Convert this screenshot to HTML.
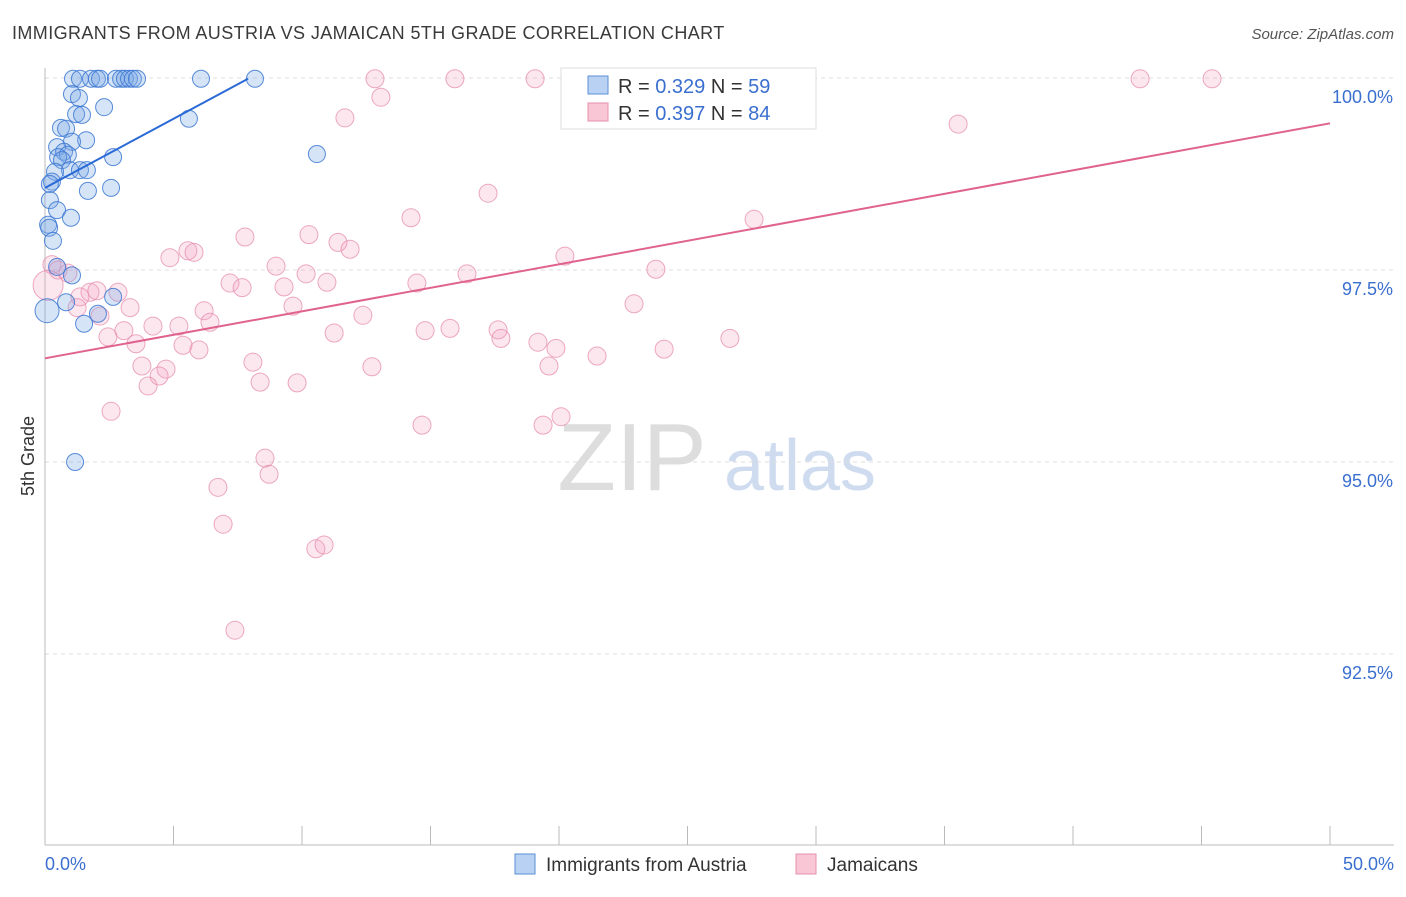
<!DOCTYPE html>
<html><head><meta charset="utf-8"><style>
body{margin:0;background:#fff;font-family:"Liberation Sans",sans-serif;}
svg text{font-family:"Liberation Sans",sans-serif;}
</style></head><body>
<svg id="chart" width="1406" height="892">
<text x="12" y="39" font-size="18" fill="#3a3a3a" letter-spacing="0.4">IMMIGRANTS FROM AUSTRIA VS JAMAICAN 5TH GRADE CORRELATION CHART</text>
<text x="1394" y="39" font-size="15" fill="#555" text-anchor="end" font-style="italic">Source: ZipAtlas.com</text>
<text x="34" y="456" font-size="18" fill="#333" text-anchor="middle" transform="rotate(-90 34 456)">5th Grade</text>
<g><text x="632" y="490" font-size="96" fill="#ddd" text-anchor="middle" font-family="Liberation Serif">ZIP</text><text x="800" y="490" font-size="72" fill="#cfdcf0" text-anchor="middle">atlas</text></g>
<g id="grid"></g><g id="axes"></g><g id="pts"></g><g id="trends"></g>
<g>
<rect x="561" y="68" width="255" height="61" fill="#fff" stroke="#ddd"/>
<rect x="588" y="76" width="20" height="18" fill="#b9d1f3" stroke="#5b8fd6"/>
<rect x="588" y="103" width="20" height="18" fill="#f9c6d6" stroke="#e590ad"/>
<text x="618" y="93" font-size="20" fill="#333">R = <tspan fill="#3a6fd0">0.329</tspan>   N = <tspan fill="#3a6fd0">59</tspan></text>
<text x="618" y="120" font-size="20" fill="#333">R = <tspan fill="#3a6fd0">0.397</tspan>   N = <tspan fill="#3a6fd0">84</tspan></text>
</g>
<g>
<rect x="515" y="854" width="20" height="20" fill="#b9d1f3" stroke="#5b8fd6"/>
<text x="546" y="871" font-size="19" fill="#333">Immigrants from Austria</text>
<rect x="796" y="854" width="20" height="20" fill="#f9c6d6" stroke="#e590ad"/>
<text x="827" y="871" font-size="19" fill="#333">Jamaicans</text>
</g>
</svg>
<script>
const yTicks=[100,97.5,95,92.5];
const yTickLabels=["100.0%","97.5%","95.0%","92.5%"];
const xTickVals=[0,5,10,15,20,25,30,35,40,45,50];
const xEndLabels=["0.0%","50.0%"];
const blueX=[1.09,1.36,1.79,2.02,2.14,2.76,2.96,3.11,3.27,3.42,3.58,6.07,8.17,1.05,1.32,2.30,1.21,1.44,5.60,0.62,0.82,1.60,1.05,0.47,0.74,0.89,0.51,0.66,2.65,10.58,0.97,1.36,1.63,0.39,0.27,0.19,2.57,1.67,0.19,0.47,1.01,0.12,0.16,0.31,0.47,1.05,0.82,2.65,2.06,1.52,0.08,1.17];
const blueY=[99.99,99.99,99.99,99.99,99.99,99.99,99.99,99.99,99.99,99.99,99.99,99.99,99.99,99.79,99.74,99.62,99.53,99.52,99.47,99.35,99.34,99.19,99.17,99.10,99.04,99.00,98.97,98.93,98.97,99.01,98.80,98.80,98.80,98.78,98.65,98.62,98.57,98.53,98.41,98.28,98.18,98.09,98.05,97.88,97.54,97.43,97.08,97.15,96.93,96.80,96.97,95.00];
const pinkX=[12.84,15.95,19.07,26.50,42.61,45.41,13.07,11.67,35.53,17.24,14.24,27.59,7.78,10.27,11.40,11.87,5.56,5.80,4.86,20.23,0.27,0.51,0.89,8.99,10.16,23.77,16.42,7.20,7.67,9.30,10.97,14.47,1.75,2.02,2.84,1.36,9.65,22.92,3.31,6.19,6.42,12.37,1.25,2.14,5.21,4.20,3.07,2.45,11.25,14.79,15.76,17.63,17.74,19.18,19.88,21.48,24.09,26.65,5.37,3.54,5.99,8.09,12.72,19.61,3.77,4.71,4.44,4.01,8.37,9.81,2.57,14.67,20.08,19.38,8.56,8.72,6.73,6.93,10.54,10.86,7.39,0.12];
const pinkY=[99.99,99.99,99.99,99.99,99.99,99.99,99.75,99.48,99.40,98.50,98.18,98.16,97.93,97.96,97.86,97.77,97.75,97.73,97.66,97.68,97.57,97.50,97.46,97.55,97.45,97.51,97.45,97.33,97.27,97.28,97.34,97.33,97.21,97.23,97.21,97.15,97.03,97.06,97.01,96.97,96.82,96.91,97.01,96.90,96.77,96.77,96.71,96.63,96.68,96.71,96.74,96.72,96.61,96.56,96.48,96.38,96.47,96.61,96.52,96.54,96.46,96.30,96.24,96.25,96.25,96.21,96.12,95.99,96.04,96.03,95.66,95.48,95.59,95.48,95.05,94.84,94.67,94.19,93.87,93.92,92.81,97.30];
const blueTrend=[[0,98.57],[7.9,99.99]];
const pinkTrend=[[0,96.35],[50,99.41]];
const NS="http://www.w3.org/2000/svg";
const X=v=>45+v*25.7, Y=v=>78+(100-v)*76.8;
function mk(tag,attrs,parent){const e=document.createElementNS(NS,tag);for(const k in attrs)e.setAttribute(k,attrs[k]);parent.appendChild(e);return e;}
const grid=document.getElementById('grid'),axes=document.getElementById('axes'),pts=document.getElementById('pts'),tr=document.getElementById('trends');
yTicks.forEach((t,i)=>{
 const l=mk('line',{x1:45,x2:1394,y1:Y(t),y2:Y(t),stroke:'#ddd','stroke-dasharray':'4,4'},grid);
 
 
 const tx=mk('text',{x:1393,y:Y(t)+25,'font-size':18,fill:'#3a6fd0','text-anchor':'end'},axes);
 tx.textContent=yTickLabels[i];
 
 
});
const ax=mk('line',{x1:45,x2:1394,y1:845,y2:845,stroke:'#bbb'},axes);


const ay=mk('line',{x1:45,x2:45,y1:68,y2:845,stroke:'#bbb'},axes);


xTickVals.forEach(v=>{
 const t=mk('line',{x1:X(v),x2:X(v),y1:826,y2:845,stroke:'#bbb'},axes);
 
 
});
[[0,'start',xEndLabels[0]],[50,'end',xEndLabels[1]]].forEach(([v,a,s])=>{
 const t=mk('text',{x:v==0?X(v):1394,y:870,'font-size':18,fill:'#3a6fd0','text-anchor':a},axes);
 t.textContent=s;
 
 
});
pinkX.forEach((x,i)=>{
 const big=i==pinkX.length-1;
 const c=mk('circle',{cx:X(x),cy:Y(pinkY[i]),r:big?15:9,fill:'rgba(244,160,190,0.25)',stroke:'rgba(230,140,172,0.75)','stroke-width':1},pts);
 
 
});
blueX.forEach((x,i)=>{
 const big=i==blueX.length-2;
 const c=mk('circle',{cx:X(x),cy:Y(blueY[i]),r:big?12:8.5,fill:'rgba(120,165,230,0.3)',stroke:'rgba(60,120,210,0.85)','stroke-width':1},pts);
 
 
});
const bl=mk('line',{x1:X(blueTrend[0][0]),y1:Y(blueTrend[0][1]),x2:X(blueTrend[1][0]),y2:Y(blueTrend[1][1]),stroke:'#2a6ad6','stroke-width':2},tr);


const pl=mk('line',{x1:X(pinkTrend[0][0]),y1:Y(pinkTrend[0][1]),x2:X(pinkTrend[1][0]),y2:Y(pinkTrend[1][1]),stroke:'#e0628f','stroke-width':2},tr);


</script>
</body></html>
